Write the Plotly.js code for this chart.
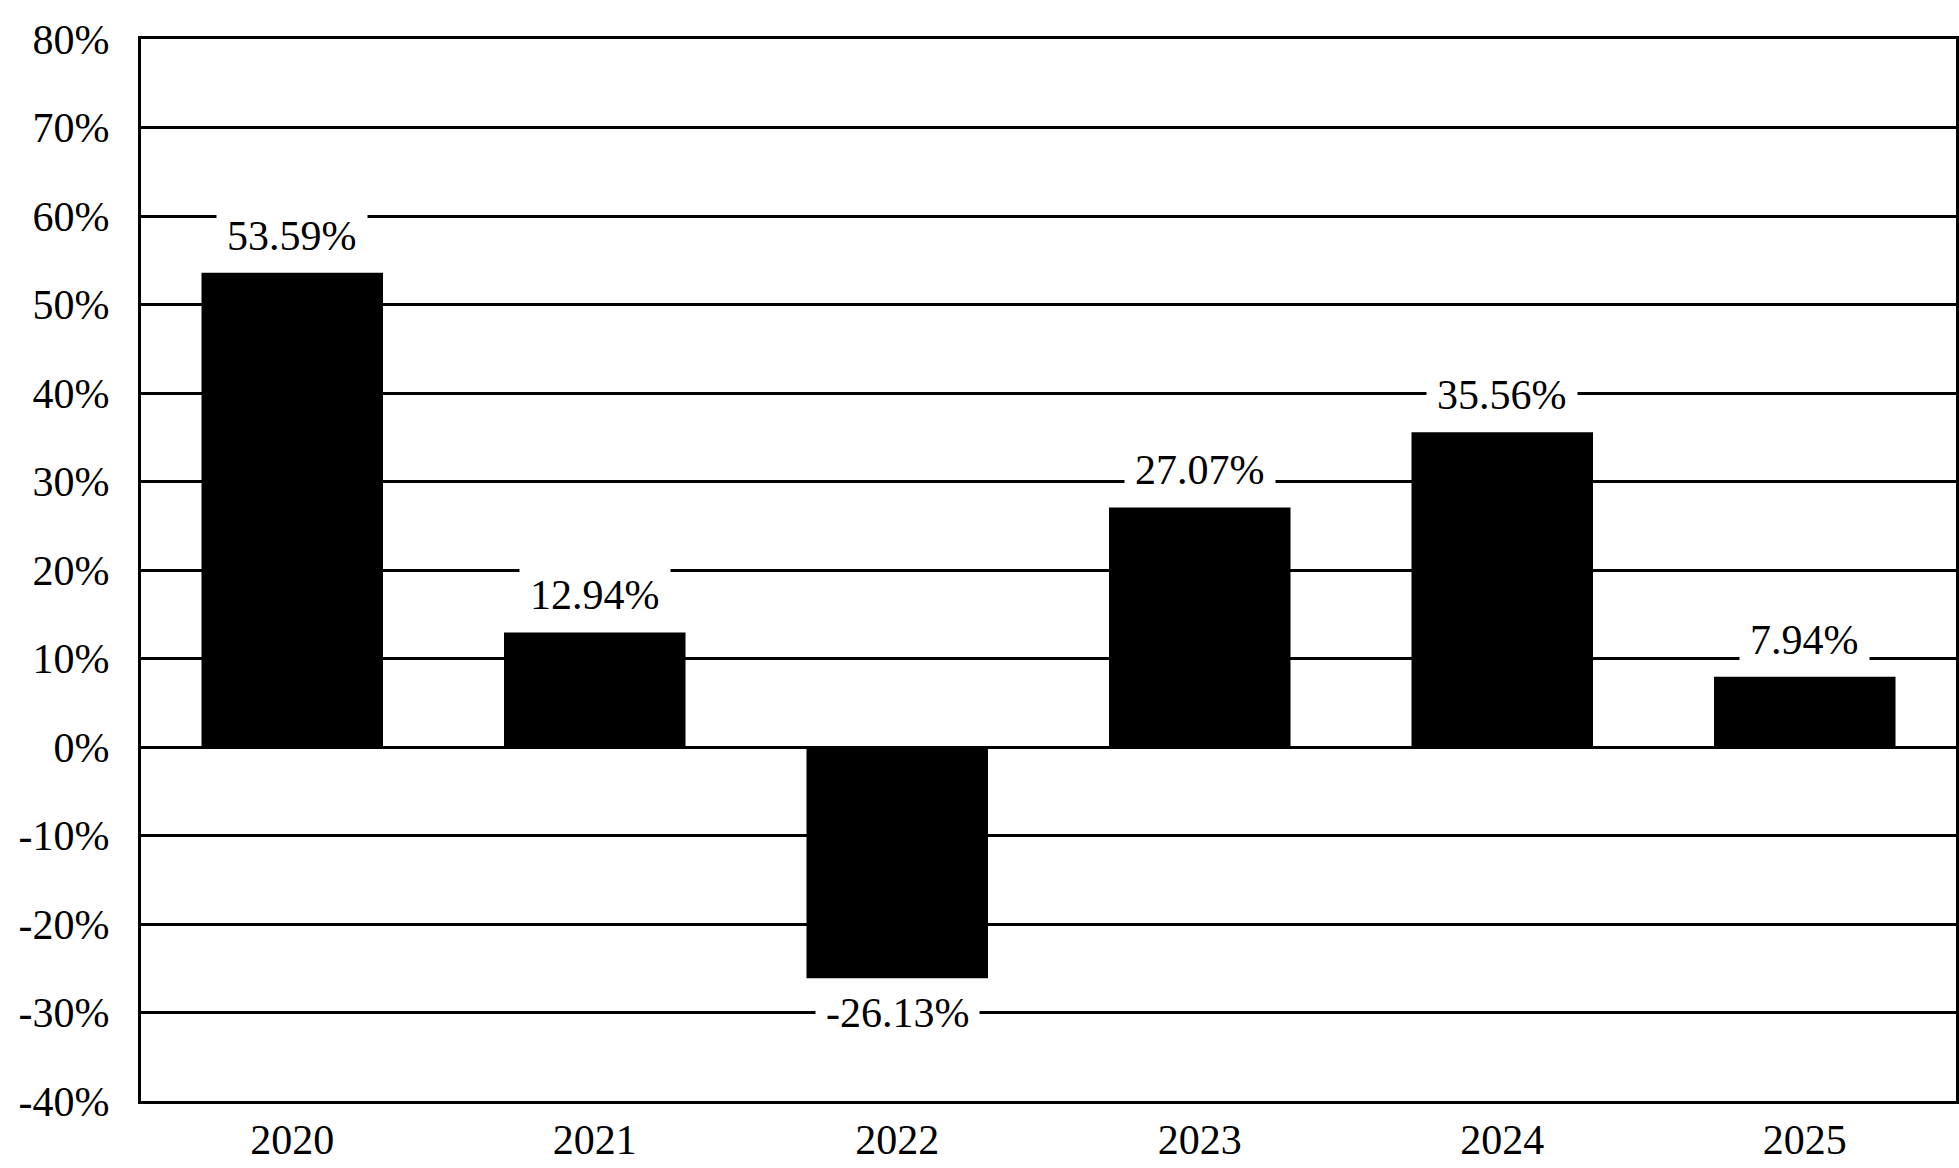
<!DOCTYPE html>
<html>
<head>
<meta charset="utf-8">
<script src="https://cdn.plot.ly/plotly-3.0.1.min.js"></script>
<style>
  html, body { margin: 0; padding: 0; background: #fff; }
  #chart { width: 1959px; height: 1168px; }
</style>
</head>
<body>
<div id="chart"></div>
<script>
var years = ['2020', '2021', '2022', '2023', '2024', '2025'];
var returns = [53.59, 12.94, -26.13, 27.07, 35.56, 7.94];
var yTicks = [-40, -30, -20, -10, 0, 10, 20, 30, 40, 50, 60, 70, 80];

var font = '"Liberation Serif"';

// bars sit on index positions, years are the tick labels
var pos = years.map(function(y, i){ return i; });

// value labels with white boxes that cut the gridlines
var notes = [];
for (var i = 0; i < years.length; i++) {
	var v = returns[i];
	notes.push({
		x: pos[i], y: v, xref: 'x', yref: 'y',
		text: v.toFixed(2) + '%',
		showarrow: false,
		yanchor: v >= 0 ? 'bottom' : 'top',
		yshift: v >= 0 ? 3 : -1,
		bgcolor: '#fff',
		borderpad: 10,
		font: {family: font, size: 42, color: '#000'}
	});
}

var data = [{
	type: 'bar',
	x: pos,
	y: returns,
	width: 0.6,
	marker: {color: '#000', line: {width: 0}},
	hoverinfo: 'none'
}];

var layout = {
	width: 1959,
	height: 1168,
	showlegend: false,
	paper_bgcolor: '#fff',
	plot_bgcolor: '#fff',
	annotations: notes,
	font: {family: font, size: 42, color: '#000'},
	margin: {l: 141, r: 3, t: 39, b: 67, pad: 0},
	xaxis: {
		range: [-0.5, 5.5],
		tickvals: pos,
		ticktext: years,
		showgrid: false,
		zeroline: false,
		showline: true,
		mirror: true,
		linecolor: '#000',
		linewidth: 3,
		ticks: '',
		tickfont: {family: font, size: 42, color: '#000'}
	},
	yaxis: {
		range: [-40, 80],
		tickvals: yTicks,
		ticktext: yTicks.map(function(t){ return t + '%'; }),
		showgrid: true,
		gridcolor: '#000',
		gridwidth: 3,
		zeroline: true,
		zerolinecolor: '#000',
		zerolinewidth: 3,
		showline: true,
		mirror: true,
		linecolor: '#000',
		linewidth: 3,
		ticks: 'outside',
		ticklen: 20,
		tickcolor: 'rgba(0,0,0,0)',
		tickfont: {family: font, size: 42, color: '#000'}
	}
};

Plotly.newPlot('chart', data, layout, {staticPlot: true, displayModeBar: false});
</script>
</body>
</html>
